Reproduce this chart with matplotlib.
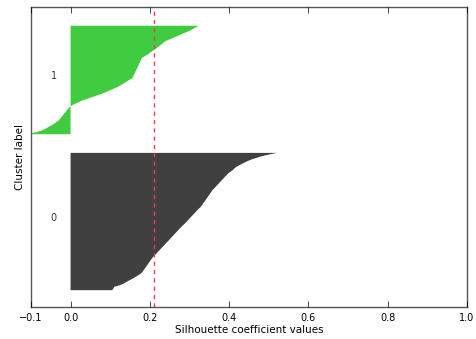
import numpy as np
import matplotlib
matplotlib.use("Agg")
import matplotlib.pyplot as plt
from matplotlib import cm

plt.style.use("classic")

cluster_labels = ["0", "1"]
cluster0_values = [0.105, 0.108, 0.110,
                   0.125, 0.135, 0.142, 0.150, 0.158, 0.165, 0.172, 0.178,
                   0.182, 0.185, 0.188, 0.191, 0.194, 0.197, 0.200, 0.203, 0.206, 0.210, 0.214, 0.218,
                   0.222, 0.226, 0.230, 0.234, 0.238, 0.242, 0.246,
                   0.250, 0.254, 0.258, 0.262, 0.266, 0.270, 0.274, 0.278, 0.282, 0.287,
                   0.291, 0.295, 0.299, 0.303, 0.307, 0.311, 0.315, 0.319, 0.323, 0.328,
                   0.331, 0.334, 0.337, 0.340, 0.343, 0.346, 0.349, 0.352, 0.355, 0.358,
                   0.362, 0.366, 0.370, 0.374, 0.378, 0.382, 0.386, 0.390, 0.394, 0.398,
                   0.404, 0.410, 0.414, 0.420, 0.428, 0.436, 0.445,
                   0.455, 0.468, 0.482, 0.500, 0.520]
cluster1_values = [-0.12, -0.09, -0.075, -0.065, -0.058, -0.05, -0.043, -0.037, -0.031, -0.027,
                   -0.023, -0.020, -0.017, -0.013, -0.010, -0.006, -0.002,
                   0.003, 0.012, 0.021, 0.030, 0.043, 0.056, 0.068,
                   0.080, 0.090, 0.100, 0.110, 0.120,
                   0.127, 0.134, 0.141, 0.148, 0.155,
                   0.158, 0.160, 0.162, 0.164, 0.166, 0.168,
                   0.170, 0.172, 0.174, 0.176, 0.178, 0.180,
                   0.187, 0.194, 0.200, 0.206, 0.212,
                   0.218, 0.224, 0.229, 0.234, 0.240,
                   0.250, 0.260, 0.270, 0.280, 0.290,
                   0.300, 0.308, 0.315, 0.322]
silhouette_avg = 0.21
x_ticks = [-0.1, 0.0, 0.2, 0.4, 0.6, 0.8, 1.0]

clusters = [cluster0_values, cluster1_values]
n_clusters = len(clusters)
n_samples = sum(len(c) for c in clusters)

fig = plt.figure(figsize=(4.76, 3.39), dpi=100)
ax = fig.add_axes([0.065, 0.094, 0.916, 0.885])
ax.set_xlim([-0.1, 1.0])
ax.set_ylim([0, n_samples + (n_clusters + 1) * 10])

y_lower = 10
for i, vals in enumerate(clusters):
    vals = np.sort(np.asarray(vals))
    size = len(vals)
    y_upper = y_lower + size
    color = cm.nipy_spectral(float(i) / n_clusters)
    ax.fill_betweenx(np.arange(y_lower, y_upper), 0, vals,
                     facecolor=color, edgecolor="none", alpha=0.75)
    ax.text(-0.05, y_lower + 0.5 * size, cluster_labels[i], fontsize=7, color="#333333")
    y_lower = y_upper + 10

ax.axvline(x=silhouette_avg, color="#ff3355", linestyle="--", linewidth=1, dashes=(3, 3))
ax.set_yticks([])
ax.set_xticks(x_ticks)
ax.tick_params(labelsize=7)
for s in ax.spines.values():
    s.set_color("#555555")
ax.set_xlabel("Silhouette coefficient values", fontsize=7.5, labelpad=2)
ax.set_ylabel("Cluster label", fontsize=7.5, labelpad=4)

fig.savefig("out.png", dpi=100)
